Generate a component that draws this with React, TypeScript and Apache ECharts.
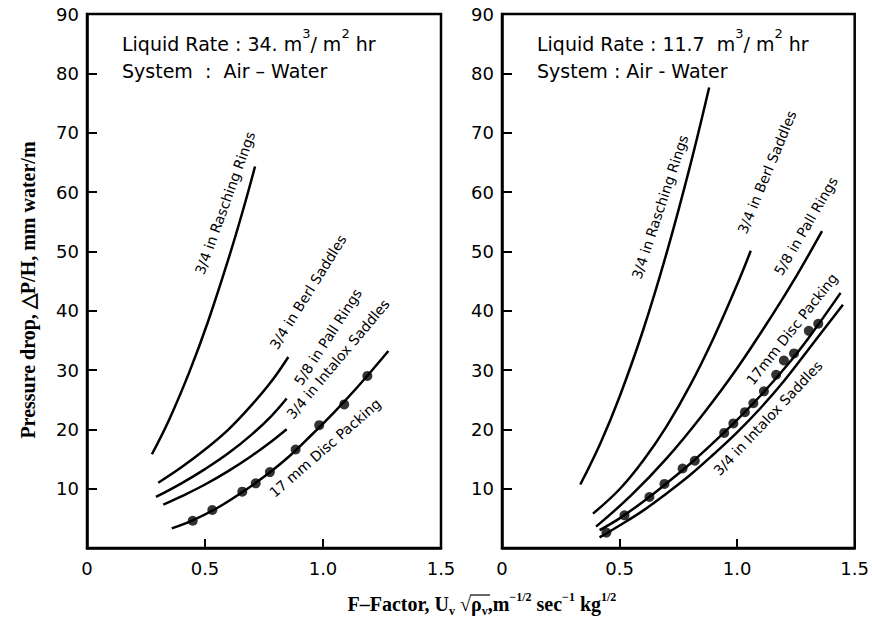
import React, { useEffect, useRef } from "react";
import * as echarts from "echarts";

// ---------- data ----------
const X_TICKS_MIN = 0;
const X_TICKS_MAX = 1.5;
const X_INTERVAL = 0.5;
const Y_MIN = 0;
const Y_MAX = 90;
const Y_INTERVAL = 10;

// Left panel: Liquid rate 34 m3/m2 hr
const L_RASCHING = [[0.275, 15.8], [0.35, 21.8], [0.436, 29.9], [0.514, 38.3], [0.6, 48.8], [0.66, 56.8], [0.712, 64.3]];
const L_BERL = [[0.302, 11.0], [0.4, 13.6], [0.5, 16.6], [0.6, 20.0], [0.7, 24.2], [0.78, 28.0], [0.853, 32.2]];
const L_PALL = [[0.292, 8.6], [0.4, 10.9], [0.5, 13.3], [0.6, 16.0], [0.7, 19.2], [0.78, 22.2], [0.846, 25.2]];
const L_INTALOX = [[0.323, 7.3], [0.4, 8.7], [0.5, 10.7], [0.6, 13.0], [0.7, 15.6], [0.78, 17.9], [0.846, 20.0]];
const L_DISC = [[0.359, 3.3], [0.45, 4.7], [0.55, 6.7], [0.65, 9.2], [0.75, 12.0], [0.85, 15.2], [0.95, 19.0], [1.05, 23.0], [1.15, 27.3], [1.277, 33.2]];
const L_DISC_PTS = [[0.448, 4.6], [0.531, 6.4], [0.658, 9.5], [0.715, 10.9], [0.775, 12.8], [0.884, 16.6], [0.984, 20.7], [1.09, 24.2], [1.188, 29.0]];

// Right panel: Liquid rate 11.7 m3/m2 hr
const R_RASCHING = [[0.333, 10.7], [0.42, 17.8], [0.5, 25.5], [0.6, 36.7], [0.7, 49.7], [0.8, 64.4], [0.881, 77.6]];
const R_BERL = [[0.387, 5.8], [0.5, 9.9], [0.6, 14.7], [0.7, 20.5], [0.8, 27.4], [0.9, 35.4], [1.0, 44.4], [1.058, 50.1]];
const R_PALL = [[0.4, 3.6], [0.55, 8.9], [0.7, 15.1], [0.85, 22.3], [1.0, 30.3], [1.15, 39.3], [1.25, 45.7], [1.361, 53.4]];
const R_DISC = [[0.415, 3.0], [0.5, 5.0], [0.6, 7.8], [0.7, 10.9], [0.8, 14.2], [0.9, 17.8], [1.0, 21.6], [1.1, 25.7], [1.2, 30.2], [1.3, 35.2], [1.44, 43]];
const R_DISC_PTS = [[0.444, 2.6], [0.521, 5.5], [0.627, 8.6], [0.691, 10.8], [0.768, 13.4], [0.82, 14.7], [0.945, 19.4], [0.984, 21.0], [1.033, 22.9], [1.069, 24.4], [1.114, 26.4], [1.166, 29.2], [1.199, 31.6], [1.242, 32.8], [1.305, 36.6], [1.345, 37.8]];
const R_INTALOX = [[0.415, 1.8], [0.5, 3.8], [0.6, 6.3], [0.7, 9.2], [0.8, 12.3], [0.9, 15.8], [1.0, 19.5], [1.1, 23.6], [1.2, 28.2], [1.3, 33.3], [1.45, 41]];

const LEFT_TITLE = ["Liquid Rate : 34. m", "3", "/ m", "2", " hr"];
const RIGHT_TITLE = ["Liquid Rate : 11.7  m", "3", "/ m", "2", " hr"];
const LEFT_SYSTEM = "System  :  Air – Water";
const RIGHT_SYSTEM = "System : Air - Water";

const Y_TITLE = "Pressure drop, \u25B3P/H, mm water/m";

const PLOT_FONT = "'DejaVu Sans', sans-serif";
const SERIF = "'Liberation Serif', 'Times New Roman', serif";

export default function App() {
  const ref = useRef<HTMLDivElement>(null);

  useEffect(() => {
    if (!ref.current) return;
    const chart = echarts.init(ref.current, undefined, { renderer: "svg" });

    const gridTop = 14;
    const gridH = 534;
    const gridW = 354;
    const grids = [
      { left: 87, top: gridTop, width: gridW, height: gridH },
      { left: 502, top: gridTop, width: gridW, height: gridH },
    ].map((g) => ({ ...g, show: true, borderColor: "#000", borderWidth: 2.5, backgroundColor: "transparent" }));

    const xAxis = [0, 1].map((i) => ({
      gridIndex: i,
      type: "value",
      min: X_TICKS_MIN,
      max: X_TICKS_MAX,
      interval: X_INTERVAL,
      axisLine: { show: true, lineStyle: { color: "#000", width: 2.5 } },
      axisTick: { show: true, inside: true, length: 9, lineStyle: { color: "#000", width: 2 } },
      axisLabel: {
        color: "#000",
        fontSize: 18,
        fontFamily: PLOT_FONT,
        margin: 11,
        formatter: (v: number) => (v === 0 ? "0" : v.toFixed(1)),
      },
      splitLine: { show: false },
    }));

    const yAxis = [0, 1].map((i) => ({
      gridIndex: i,
      type: "value",
      min: Y_MIN,
      max: Y_MAX,
      interval: Y_INTERVAL,
      axisLine: { show: true, lineStyle: { color: "#000", width: 2.5 } },
      axisTick: { show: true, inside: true, length: 10, lineStyle: { color: "#000", width: 2 } },
      axisLabel: {
        color: "#000",
        fontSize: 18,
        fontFamily: PLOT_FONT,
        margin: 8,
        formatter: (v: number) => (v === 0 ? "" : String(v)),
      },
      splitLine: { show: false },
    }));

    const line = (data: number[][], idx: number) => ({
      type: "line",
      xAxisIndex: idx,
      yAxisIndex: idx,
      data,
      smooth: 0.4,
      symbol: "none",
      showSymbol: false,
      lineStyle: { color: "#000", width: 2.5 },
      silent: true,
    });
    const dots = (data: number[][], idx: number) => ({
      type: "scatter",
      xAxisIndex: idx,
      yAxisIndex: idx,
      data,
      symbolSize: 10,
      itemStyle: { color: "#000" },
      silent: true,
    });

    const series = [
      line(L_RASCHING, 0),
      line(L_BERL, 0),
      line(L_PALL, 0),
      line(L_INTALOX, 0),
      line(L_DISC, 0),
      dots(L_DISC_PTS, 0),
      line(R_RASCHING, 1),
      line(R_BERL, 1),
      line(R_PALL, 1),
      line(R_DISC, 1),
      dots(R_DISC_PTS, 1),
      line(R_INTALOX, 1),
    ];

    const deg = Math.PI / 180;
    const curveLabel = (text: string, x: number, y: number, angle: number) => ({
      type: "text",
      x,
      y,
      rotation: angle * deg,
      style: {
        text,
        fill: "#000",
        font: `14px ${PLOT_FONT}`,
        align: "center",
        verticalAlign: "middle",
      },
      silent: true,
    });

    const titleRich = {
      a: { fontSize: 19, fontFamily: PLOT_FONT, fill: "#000", lineHeight: 26, verticalAlign: "bottom" },
      s: { fontSize: 13, fontFamily: PLOT_FONT, fill: "#000", lineHeight: 26, verticalAlign: "top" },
    };
    const panelTitle = (parts: string[], x: number, y: number) => ({
      type: "text",
      x,
      y,
      style: {
        text: `{a|${parts[0]}}{s|${parts[1]}}{a|${parts[2]}}{s|${parts[3]}}{a|${parts[4]}}`,
        rich: titleRich,
        align: "left",
        verticalAlign: "middle",
      },
      silent: true,
    });
    const sysText = (text: string, x: number, y: number) => ({
      type: "text",
      x,
      y,
      style: { text, fill: "#000", font: `19px ${PLOT_FONT}`, align: "left", verticalAlign: "middle" },
      silent: true,
    });

    const b = { fontSize: 20, fontFamily: SERIF, fontWeight: "bold", fill: "#000", lineHeight: 26, verticalAlign: "middle" };
    const sub = { fontSize: 12, fontFamily: SERIF, fontWeight: "bold", fill: "#000", lineHeight: 26, verticalAlign: "bottom" };
    const sup = { fontSize: 12, fontFamily: SERIF, fontWeight: "bold", fill: "#000", lineHeight: 26, verticalAlign: "top" };

    const splitX = 471;
    const titleY = 604;

    const graphic = [
      panelTitle(LEFT_TITLE, 122, 40),
      sysText(LEFT_SYSTEM, 122, 71),
      panelTitle(RIGHT_TITLE, 537, 40),
      sysText(RIGHT_SYSTEM, 537, 71),
      curveLabel("3/4 in Rasching Rings", 225, 203, 70),
      curveLabel("3/4 in Berl Saddles", 308, 292, 58),
      curveLabel("5/8 in Pall Rings", 328, 337, 57),
      curveLabel("3/4 in Intalox Saddles", 338, 359, 50),
      curveLabel("17 mm Disc Packing", 325, 448, 41),
      curveLabel("3/4 in Rasching Rings", 660, 207, 71.6),
      curveLabel("3/4 in Berl Saddles", 767, 172, 67.5),
      curveLabel("5/8 in Pall Rings", 806, 226, 59.6),
      curveLabel("17mm Disc Packing", 792, 329, 51.6),
      curveLabel("3/4 in Intalox Saddles", 768, 418, 46.7),
      {
        type: "text",
        x: 28,
        y: 290,
        rotation: 90 * deg,
        style: {
          text: Y_TITLE,
          fill: "#000",
          font: `bold 20px ${SERIF}`,
          align: "center",
          verticalAlign: "middle",
        },
        silent: true,
      },
      {
        type: "text",
        x: splitX,
        y: titleY,
        style: {
          text: "{b|F\u2013Factor, U}{sub|v}{b| \u221A}",
          rich: { b, sub, sup },
          align: "right",
          verticalAlign: "middle",
        },
        silent: true,
      },
      {
        type: "text",
        x: splitX,
        y: titleY,
        style: {
          text: "{b|\u03C1}{sub|v}{b|,m}{sup|\u22121/2}{b| sec}{sup|\u22121}{b| kg}{sup|1/2}",
          rich: { b, sub, sup },
          align: "left",
          verticalAlign: "middle",
        },
        silent: true,
      },
      {
        type: "line",
        shape: { x1: splitX - 1, y1: titleY - 9, x2: splitX + 19, y2: titleY - 9 },
        style: { stroke: "#000", lineWidth: 1.2 },
        silent: true,
      },
    ];

    chart.setOption({
      animation: false,
      backgroundColor: "#fff",
      grid: grids,
      xAxis,
      yAxis,
      series,
      graphic,
    });

    return () => chart.dispose();
  }, []);

  return (
    <div
      ref={ref}
      style={{ position: "fixed", left: 0, top: 0, width: 872, height: 627, background: "#fff" }}
    />
  );
}
